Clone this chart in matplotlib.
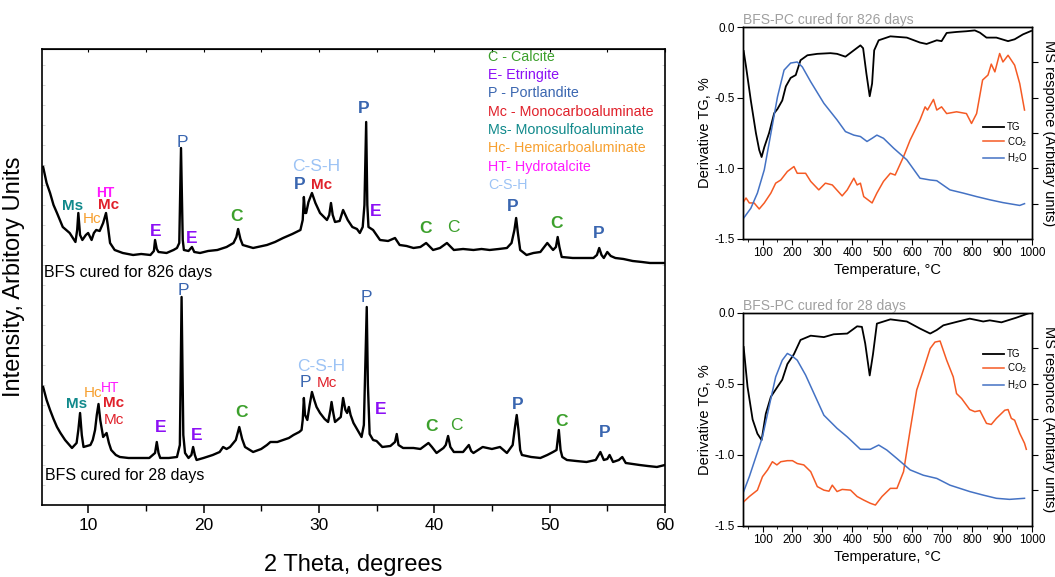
import matplotlib
matplotlib.use("Agg")
import matplotlib.pyplot as plt
from matplotlib.ticker import MultipleLocator

plt.rcParams["font.family"] = ["Liberation Sans", "DejaVu Sans"]
plt.rcParams["mathtext.fontset"] = "custom"
plt.rcParams["mathtext.rm"] = "Liberation Sans"
plt.rcParams["mathtext.it"] = "Liberation Sans"
plt.rcParams["axes.unicode_minus"] = False

# ---- XRD patterns (2 theta, intensity in arbitrary units) ----
xrd826_theta = [6.1, 6.4, 6.7, 7.0, 7.3, 7.8, 8.4, 8.9, 9.05, 9.15, 9.3, 9.5, 9.8, 10.0, 10.3, 10.5,
                10.7, 11.0, 11.3, 11.55, 11.7, 11.9, 12.3, 13.0, 13.9, 14.6, 15.4, 15.7, 15.8, 15.95,
                16.1, 16.8, 17.4, 17.7, 17.9, 18.05, 18.2, 18.3, 18.7, 19.0, 19.2, 19.7, 20.4, 21.2,
                22.0, 22.6, 22.85, 23.0, 23.2, 23.4, 24.3, 25.5, 26.2, 26.9, 27.7, 28.4, 28.6, 28.7,
                28.8, 28.9, 29.1, 29.4, 29.7, 30.1, 30.7, 30.9, 31.05, 31.2, 31.4, 31.8, 32.1, 32.3,
                32.5, 32.9, 33.3, 33.55, 33.8, 33.95, 34.1, 34.2, 34.3, 34.7, 35.3, 36.0, 36.6, 37.0,
                37.6, 38.2, 38.8, 39.3, 39.9, 40.5, 41.1, 41.7, 42.5, 43.4, 44.1, 44.8, 45.6, 46.3,
                46.7, 46.95, 47.1, 47.25, 47.45, 48.0, 48.6, 49.2, 49.8, 50.3, 50.55, 50.7, 50.85,
                51.05, 52.0, 53.0, 53.8, 54.1, 54.3, 54.5, 54.7, 55.0, 55.3, 55.7, 56.4, 57.2, 58.0,
                58.7, 59.4, 60.0]
xrd826_int = [338, 322, 312, 300, 292, 278, 272, 263, 275, 292, 270, 265, 270, 272, 265, 272,
              275, 274, 282, 292, 280, 262, 255, 252, 250, 251, 250, 254, 265, 256,
              253, 252, 255, 257, 262, 357, 265, 255, 254, 258, 253, 252, 254, 255,
              258, 262, 268, 276, 266, 260, 257, 260, 263, 267, 271, 275, 285, 308,
              292, 292, 303, 312, 302, 292, 285, 290, 302, 290, 283, 284, 295, 290,
              285, 278, 276, 272, 278, 300, 383, 300, 278, 275, 265, 264, 267, 260,
              259, 257, 258, 262, 255, 257, 262, 255, 256, 255, 256, 255, 256, 257,
              262, 275, 287, 272, 255, 250, 252, 253, 262, 255, 258, 268, 258,
              248, 247, 247, 247, 250, 257, 250, 247, 253, 249, 247, 246, 244, 243,
              242, 242, 242]

xrd28_theta = [6.1, 6.4, 6.7, 7.0, 7.3, 7.6, 8.0, 8.6, 9.0, 9.15, 9.3, 9.45, 9.6, 10.2, 10.4, 10.6,
               10.75, 10.9, 11.05, 11.3, 11.45, 11.6, 11.8, 12.0, 12.4, 12.75, 13.5, 14.5, 15.3,
               15.8, 15.95, 16.1, 16.25, 17.0, 17.7, 17.95, 18.1, 18.25, 18.4, 18.7, 18.95, 19.1,
               19.25, 19.4, 20.0, 20.8, 21.4, 21.7, 22.0, 22.3, 22.8, 23.1, 23.35, 23.6, 24.3, 25.0,
               25.5, 25.8, 26.4, 26.9, 27.4, 27.8, 28.3, 28.5, 28.6, 28.7, 28.8, 29.0, 29.2, 29.4,
               29.6, 29.8, 30.1, 30.5, 30.8, 31.0, 31.1, 31.25, 31.4, 31.9, 32.1, 32.3, 32.45, 32.6,
               32.75, 33.0, 33.2, 33.5, 33.7, 33.9, 34.05, 34.15, 34.25, 34.4, 34.7, 35.0, 35.5,
               36.2, 36.6, 36.75, 36.9, 37.3, 38.2, 38.8, 39.5, 39.8, 40.2, 40.8, 41.0, 41.2, 41.4,
               41.7, 42.5, 43.0, 43.2, 43.4, 44.2, 45.0, 45.7, 46.3, 46.8, 47.0, 47.15, 47.3, 47.45,
               47.6, 48.4, 49.2, 49.8, 50.3, 50.6, 50.8, 50.95, 51.1, 51.5, 52.3, 53.2, 54.0, 54.4,
               54.7, 55.0, 55.2, 55.5, 56.0, 56.3, 56.6, 57.2, 57.8, 58.5, 59.3, 60.0]
xrd28_int = [118, 105, 95, 86, 78, 72, 65, 57, 62, 75, 92, 70, 58, 60, 65, 75,
             90, 101, 85, 68, 70, 72, 62, 55, 50, 48, 47, 47, 47,
             52, 63, 52, 47, 47, 48, 60, 208, 70, 52, 47, 50, 58,
             50, 45, 47, 50, 53, 58, 56, 58, 65, 78, 66, 58, 53, 56,
             60, 63, 63, 65, 67, 70, 73, 75, 85, 107, 90, 85, 100, 113,
             105, 98, 92, 86, 83, 95, 103, 92, 83, 88, 107, 95, 92, 98,
             90, 82, 78, 72, 68, 80, 150, 198, 120, 71, 65, 64, 58,
             59, 63, 71, 60, 57, 57, 56, 62, 58, 52, 57, 60, 69, 58,
             53, 53, 60, 54, 52, 58, 56, 58, 52, 60, 78, 90, 75, 55,
             50, 48, 47, 50, 53, 55, 75, 55, 48, 45, 44, 43, 45, 53,
             45, 46, 50, 43, 45, 48, 42, 41, 40, 39, 38, 40]

# ---- phase labels: (text, 2theta, intensity, colour key, bold) ----
labels_826 = [("Ms", 8.69, 299, "Ms", True), ("Hc", 10.33, 286, "Hc", False),
              ("HT", 11.46, 312, "HT", True), ("Mc", 11.81, 300, "Mc", True),
              ("E", 15.88, 273, "E", True), ("P", 18.13, 362, "P", False),
              ("E", 19.0, 266, "E", True), ("C", 22.9, 288, "C", True),
              ("C-S-H", 29.74, 338, "CSH", False), ("P", 28.36, 320, "P", True),
              ("Mc", 30.26, 320, "Mc", True), ("P", 33.9, 396, "P", True),
              ("E", 34.94, 293, "E", True), ("C", 39.28, 276, "C", True),
              ("C", 41.62, 277, "C", False), ("P", 46.81, 298, "P", True),
              ("C", 50.63, 281, "C", True), ("P", 54.27, 271, "P", True)]
labels_28 = [("P", 18.22, 214, "P", False), ("Ms", 9.0, 101, "Ms", True),
             ("Hc", 10.45, 112, "Hc", False), ("HT", 11.89, 117, "HT", False),
             ("Mc", 12.24, 102, "Mc", True), ("Mc", 12.24, 85, "Mc", False),
             ("E", 16.31, 77, "E", True), ("E", 19.43, 69, "E", True),
             ("C", 23.33, 92, "C", True), ("C-S-H", 30.18, 138, "CSH", False),
             ("P", 28.79, 122, "P", False), ("Mc", 30.7, 122, "Mc", False),
             ("P", 34.16, 207, "P", False), ("E", 35.38, 95, "E", True),
             ("C", 39.8, 78, "C", True), ("C", 41.96, 79, "C", False),
             ("P", 47.25, 100, "P", True), ("C", 51.06, 83, "C", True),
             ("P", 54.79, 72, "P", True)]

legend_keys = ["C", "E", "P", "Mc", "Ms", "Hc", "HT", "CSH"]
legend_texts = ["C - Calcite", "E- Etringite", "P - Portlandite", "Mc - Monocarboaluminate",
                "Ms- Monosulfoaluminate", "Hc- Hemicarboaluminate", "HT- Hydrotalcite", "C-S-H"]
phase_colors = {"C": "#3ca02c", "E": "#8c10f5", "P": "#3a66b0", "Mc": "#e0202a",
                "Ms": "#10898b", "Hc": "#f7a030", "HT": "#ff19ff", "CSH": "#9cc3f5"}

# ---- TG / MS data: temperature (C), derivative TG (%), MS response (arb.) ----
tg826_T = [37, 45, 61, 78, 89, 97, 106, 122, 139, 150, 166, 178, 194, 211, 227, 250, 283, 327,
           349, 377, 405, 427, 436, 447, 458, 466, 473, 488, 527, 582, 626, 648, 682, 698, 715,
           748, 781, 809, 826, 848, 881, 920, 942, 970, 997]
tg826_v = [-0.17, -0.28, -0.52, -0.75, -0.87, -0.92, -0.85, -0.75, -0.61, -0.58, -0.52, -0.42,
           -0.36, -0.34, -0.235, -0.20, -0.19, -0.185, -0.19, -0.21, -0.165, -0.13, -0.15, -0.33,
           -0.49, -0.40, -0.165, -0.094, -0.066, -0.075, -0.11, -0.12, -0.094, -0.10, -0.042,
           -0.035, -0.03, -0.024, -0.04, -0.075, -0.075, -0.10, -0.087, -0.052, -0.028]
h2o826_T = [37, 61, 83, 106, 128, 150, 172, 194, 216, 233, 261, 305, 349, 377, 405, 427, 449,
            466, 482, 504, 538, 582, 626, 660, 682, 726, 770, 815, 859, 903, 959, 975]
h2o826_v = [0.59, 0.87, 1.30, 1.96, 2.99, 4.02, 4.78, 4.98, 5.01, 4.87, 4.45, 3.84, 3.37, 3.04,
            2.94, 2.90, 2.76, 2.85, 2.94, 2.85, 2.57, 2.24, 1.72, 1.67, 1.65, 1.39, 1.30, 1.20,
            1.11, 1.03, 0.95, 1.00]
co2826_T = [37, 45, 56, 72, 89, 106, 128, 144, 161, 183, 205, 216, 244, 261, 288, 310, 333, 366,
            383, 405, 416, 427, 438, 466, 482, 504, 527, 543, 571, 593, 626, 643, 651, 671, 682,
            698, 715, 748, 781, 798, 815, 835, 853, 864, 876, 892, 903, 920, 942, 959, 975]
co2826_v = [1.06, 1.16, 1.02, 1.02, 0.85, 1.02, 1.30, 1.58, 1.67, 1.91, 2.05, 1.86, 1.86, 1.63,
            1.39, 1.58, 1.53, 1.22, 1.39, 1.72, 1.53, 1.58, 1.20, 1.02, 1.30, 1.63, 1.86, 1.81,
            2.33, 2.80, 3.37, 3.74, 3.65, 3.95, 3.65, 3.74, 3.55, 3.60, 3.55, 3.27, 3.55, 4.50,
            4.64, 4.95, 4.73, 5.25, 5.01, 5.20, 4.92, 4.40, 3.65]

tg28_T = [37, 50, 67, 83, 97, 111, 128, 150, 166, 183, 205, 227, 261, 305, 338, 383, 416, 432,
          443, 458, 469, 482, 527, 582, 626, 660, 682, 704, 748, 792, 815, 837, 859, 898, 948, 992]
tg28_v = [-0.24, -0.52, -0.75, -0.85, -0.895, -0.71, -0.59, -0.52, -0.47, -0.36, -0.29, -0.19,
          -0.16, -0.17, -0.15, -0.145, -0.094, -0.098, -0.215, -0.44, -0.29, -0.075, -0.045,
          -0.06, -0.11, -0.145, -0.12, -0.087, -0.063, -0.04, -0.05, -0.06, -0.052, -0.066,
          -0.033, 0.0]
h2o28_T = [37, 56, 78, 100, 122, 144, 166, 183, 200, 216, 244, 272, 305, 349, 383, 427, 460, 488,
           515, 549, 593, 637, 682, 726, 748, 792, 837, 881, 925, 975]
h2o28_v = [0.97, 1.39, 1.95, 2.51, 3.36, 4.20, 4.67, 4.86, 4.78, 4.67, 4.25, 3.73, 3.12, 2.75,
           2.51, 2.16, 2.16, 2.28, 2.14, 1.90, 1.58, 1.43, 1.34, 1.15, 1.09, 0.97, 0.87, 0.78,
           0.75, 0.78]
co228_T = [37, 56, 83, 100, 117, 133, 148, 161, 183, 200, 216, 238, 261, 283, 305, 322, 333, 349,
           366, 394, 416, 438, 460, 477, 499, 527, 549, 571, 593, 615, 637, 660, 676, 693, 715,
           737, 748, 765, 792, 809, 826, 848, 864, 881, 909, 920, 931, 942, 959, 975, 981]
co228_v = [0.68, 0.83, 1.01, 1.39, 1.58, 1.81, 1.72, 1.81, 1.84, 1.84, 1.76, 1.72, 1.53, 1.11,
           1.01, 0.98, 1.15, 0.97, 1.03, 1.01, 0.83, 0.73, 0.64, 0.59, 0.83, 1.06, 1.06, 1.53,
           2.70, 3.83, 4.39, 5.00, 5.18, 5.21, 4.67, 4.20, 3.73, 3.59, 3.28, 3.22, 3.25, 2.89,
           2.86, 3.03, 3.26, 3.28, 3.03, 2.98, 2.61, 2.33, 2.16]

TG_COLOR = "#000000"
CO2_COLOR = "#f55a24"
H2O_COLOR = "#4472c4"

fig = plt.figure(figsize=(10.55, 5.77), dpi=100)

# ---------------- XRD panel ----------------
ax = fig.add_axes([0.0398, 0.1248, 0.5905, 0.7903])
ax.plot(xrd826_theta, xrd826_int, color="black", linewidth=1.7)
ax.plot(xrd28_theta, xrd28_int, color="black", linewidth=1.7)
ax.set_xlim(6, 60)
ax.set_ylim(0, 456)
for lst in (labels_826, labels_28):
    for txt, x, y, key, bold in lst:
        size = 12.5 if len(txt) == 1 or txt == "C-S-H" else 11
        if txt == "HT":
            size = 10
        ax.text(x, y, txt, color=phase_colors[key], fontsize=size,
                fontweight="bold" if bold else "normal", ha="center", va="center")
ax.text(6.17, 232, "BFS cured for 826 days", fontsize=11.5, ha="left", va="center")
ax.text(6.26, 29, "BFS cured for 28 days", fontsize=11.5, ha="left", va="center")
leg_y = [448, 430, 412, 393, 375, 357, 338, 320]
for key, txt, y in zip(legend_keys, legend_texts, leg_y):
    ax.text(44.65, y, txt, color=phase_colors[key], fontsize=10.3, ha="left", va="center")

ax.xaxis.set_major_locator(MultipleLocator(10))
ax.xaxis.set_minor_locator(MultipleLocator(5))
ax.yaxis.set_major_locator(MultipleLocator(20))
ax.tick_params(axis="x", which="major", direction="out", length=6, width=1.1, labelsize=12.5)
ax.tick_params(axis="x", which="minor", direction="out", length=4, width=1.0)
ax.tick_params(axis="y", which="both", left=True, right=True, direction="in", length=2,
               width=0.5, color="#c8c8c8", labelleft=False)
top = ax.secondary_xaxis("top")
top.xaxis.set_major_locator(MultipleLocator(5))
top.tick_params(direction="in", length=2.5, width=0.8, labeltop=False)
for s in ax.spines.values():
    s.set_linewidth(1.2)
ax.set_xlabel("2 Theta, degrees", fontsize=17, labelpad=15)
ax.set_ylabel("Intensity, Arbitory Units", fontsize=17, labelpad=12)


# ---------------- TG / MS panels ----------------
def tg_panel(rect, title, tg_T, tg_v, co2_T, co2_v, h2o_T, h2o_v, leg_y):
    a = fig.add_axes(rect)
    a.plot(tg_T, tg_v, color=TG_COLOR, linewidth=1.3, label="TG")
    a.set_xlim(35, 1000)
    a.set_ylim(-1.5, 0)
    a.set_yticks([0, -0.5, -1.0, -1.5])
    a.set_yticklabels(["0.0", "-0.5", "-1.0", "-1.5"])
    a.xaxis.set_minor_locator(MultipleLocator(50))
    a.set_xticks(range(100, 1001, 100))
    a.tick_params(axis="both", which="major", direction="out", length=4, labelsize=8.5, pad=2)
    a.tick_params(axis="x", which="minor", direction="out", length=2.5)
    a.set_xlabel("Temperature, °C", fontsize=10.5, labelpad=3)
    a.set_ylabel("Derivative TG, %", fontsize=10.5, labelpad=2)
    a.set_title(title, fontsize=10, color="#a0a0a0", loc="left", pad=2)
    b = a.twinx()
    b.plot(co2_T, co2_v, color=CO2_COLOR, linewidth=1.1, label="CO$_2$")
    b.plot(h2o_T, h2o_v, color=H2O_COLOR, linewidth=1.1, label="H$_2$O")
    b.set_ylim(0, 6)
    b.set_yticks([1, 2, 3, 4, 5])
    b.tick_params(axis="y", direction="out", length=4, labelright=False)
    b.set_ylabel("MS responce (Arbitary units)", fontsize=10.5, rotation=-90, labelpad=13)
    for s in list(a.spines.values()) + list(b.spines.values()):
        s.set_linewidth(1.0)
    handles = a.get_lines() + b.get_lines()
    b.legend(handles, [h.get_label() for h in handles], loc="center left",
             bbox_to_anchor=(0.8, leg_y), frameon=False, fontsize=7, handlelength=2.2,
             labelspacing=0.25, handletextpad=0.3)


tg_panel([0.7043, 0.5858, 0.2739, 0.3674], "BFS-PC cured for 826 days",
         tg826_T, tg826_v, co2826_T, co2826_v, h2o826_T, h2o826_v, 0.45)
tg_panel([0.7043, 0.0884, 0.2739, 0.3692], "BFS-PC cured for 28 days",
         tg28_T, tg28_v, co228_T, co228_v, h2o28_T, h2o28_v, 0.73)

fig.savefig("out.png", dpi=100)
